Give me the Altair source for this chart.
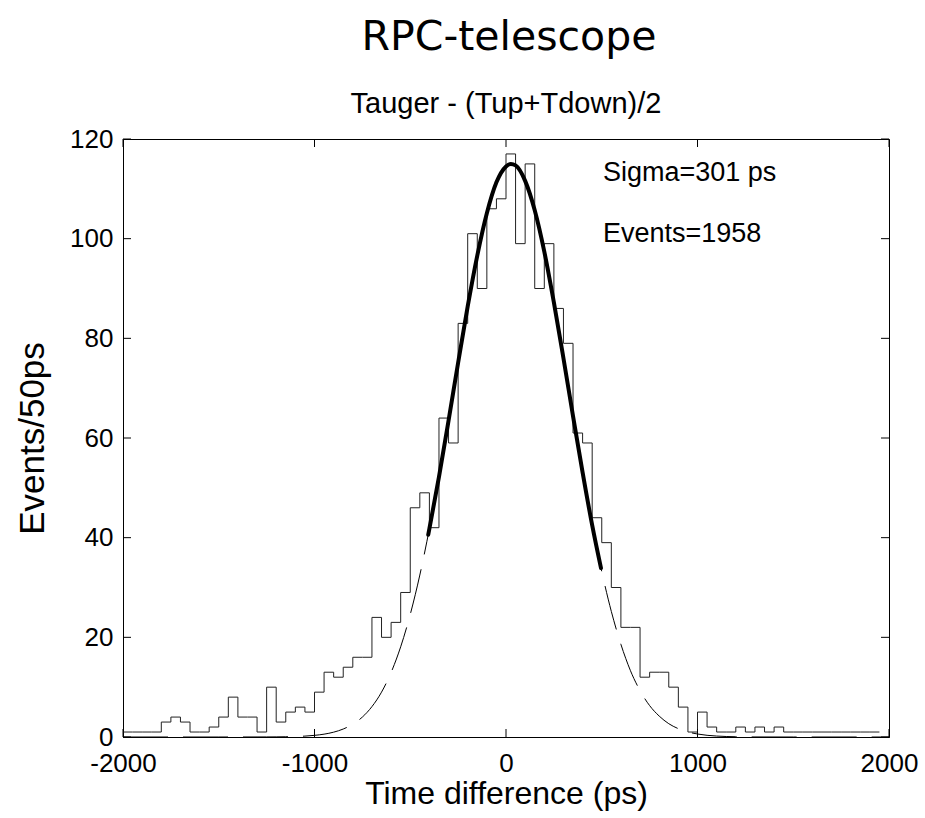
import altair as alt
import pandas as pd

# ---------------- data ----------------
# histogram: left bin edges (50 ps bins) and counts
bin_left = list(range(-2000, 1950, 50))
counts = [1, 1, 1, 1, 3, 4, 3, 1, 1, 2,
          4, 8, 4, 4, 1, 10, 3, 5, 6, 5,
          9, 13, 12, 14, 16, 16, 24, 20, 23, 29,
          46, 49, 42, 64, 59, 83, 101, 90, 106, 108,
          117, 99, 115, 90, 99, 86, 79, 61, 59, 44,
          39, 30, 22, 22, 12, 13, 13, 10, 6, 1,
          5, 2, 1, 1, 2, 1, 2, 1, 2,
          1, 1, 1, 1, 1, 1, 1, 1, 1, 1]
hist_end = 1950

# gaussian fit curve (dashed, full range)
fit_x = [-2000, -1500, -1300, -1250, -1200, -1150, -1100, -1050, -1000, -950,
         -900, -850, -800, -750, -700, -650, -600, -550, -500, -450,
         -400, -350, -300, -250, -200, -150, -100, -50, 0, 25,
         50, 100, 150, 200, 250, 300, 350, 400, 450, 500,
         550, 600, 650, 700, 750, 800, 850, 900, 950, 1000,
         1050, 1100, 1150, 1200, 1250, 1300, 1500, 2000]
fit_y = [0, 0, 0.01, 0.013, 0.027, 0.05, 0.1, 0.18, 0.33, 0.57,
         0.97, 1.6, 2.57, 4.0, 6.1, 9.0, 12.95, 18.1, 24.6, 32.5,
         41.8, 52.2, 63.5, 75.1, 86.4, 96.6, 105.1, 111.3, 114.5, 115.0,
         114.7, 111.6, 105.7, 97.4, 87.2, 76.0, 64.4, 53.1, 42.5, 33.2,
         25.2, 18.6, 13.3, 9.3, 6.3, 4.2, 2.67, 1.67, 1.01, 0.6,
         0.34, 0.19, 0.1, 0.05, 0.03, 0.01, 0, 0]

# thick fitted portion
thick_x = [-406, -400, -350, -300, -250, -200, -150, -100, -50, 0, 25,
           50, 100, 150, 200, 250, 300, 350, 400, 450, 496]
thick_y = [40.6, 41.8, 52.2, 63.5, 75.1, 86.4, 96.6, 105.1, 111.3, 114.5, 115.0,
           114.7, 111.6, 105.7, 97.4, 87.2, 76.0, 64.4, 53.1, 42.5, 33.9]

x_ticks = [-2000, -1000, 0, 1000, 2000]
y_ticks = [0, 20, 40, 60, 80, 100, 120]

annot_text = ["Sigma=301 ps", "Events=1958"]
annot_x = [506, 506]
annot_y = [111.6, 99.3]

title_text = "RPC-telescope"
subtitle_text = "Tauger - (Tup+Tdown)/2"

# ---------------- chart ----------------
W, H = 766, 598
FONT = "Liberation Sans"

hist_df = pd.DataFrame({"t": bin_left + [hist_end], "n": counts + [counts[-1]]})
fit_df = pd.DataFrame({"t": fit_x, "v": fit_y})
thick_df = pd.DataFrame({"t": thick_x, "v": thick_y})
xt_df = pd.DataFrame({"t": x_ticks})
yt_df = pd.DataFrame({"t": y_ticks})
ann_df = pd.DataFrame({"t": annot_x, "v": annot_y, "s": annot_text})

x_scale = alt.Scale(domain=[-2000, 2000], nice=False, zero=False)
y_scale = alt.Scale(domain=[0, 120], nice=False, zero=False)

x_axis = alt.Axis(values=x_ticks, ticks=False, tickSize=0, grid=False,
                  domainColor="black", domainWidth=1,
                  labelFont=FONT, labelFontSize=26, labelColor="black",
                  labelPadding=13, labelFlush=False, labelOverlap=False,
                  labelExpr="datum.value + ''",
                  title="Time difference (ps)", titleFont=FONT, titleFontSize=32,
                  titleFontWeight="normal", titleColor="black",
                  titleY=66, titleBaseline="alphabetic")
y_axis = alt.Axis(values=y_ticks, ticks=False, tickSize=0, grid=False,
                  domainColor="black", domainWidth=1,
                  labelFont=FONT, labelFontSize=26, labelColor="black",
                  labelPadding=10, labelFlush=False, labelOverlap=False,
                  labelExpr="datum.value + ''",
                  title="Events/50ps", titleFont=FONT, titleFontSize=35,
                  titleFontWeight="normal", titleColor="black",
                  titleX=-80, titleY=H / 2, titleBaseline="alphabetic",
                  titleAlign="center")

hist = alt.Chart(hist_df).mark_line(interpolate="step-after", color="#222222",
                                    strokeWidth=1).encode(
    x=alt.X("t:Q", scale=x_scale, axis=x_axis),
    y=alt.Y("n:Q", scale=y_scale, axis=y_axis),
)

dashed = alt.Chart(fit_df).mark_line(interpolate="monotone", color="black",
                                     strokeWidth=1, strokeDash=[45, 15]).encode(
    x=alt.X("t:Q", scale=x_scale), y=alt.Y("v:Q", scale=y_scale))

thick = alt.Chart(thick_df).mark_line(interpolate="monotone", color="black",
                                      strokeWidth=4, strokeCap="round").encode(
    x=alt.X("t:Q", scale=x_scale), y=alt.Y("v:Q", scale=y_scale))

tick_len = 8
bottom_ticks = alt.Chart(xt_df).mark_rule(color="black", strokeWidth=1).encode(
    x=alt.X("t:Q", scale=x_scale), y=alt.value(H), y2=alt.value(H - tick_len))
top_ticks = alt.Chart(xt_df).mark_rule(color="black", strokeWidth=1).encode(
    x=alt.X("t:Q", scale=x_scale), y=alt.value(0), y2=alt.value(tick_len))
left_ticks = alt.Chart(yt_df).mark_rule(color="black", strokeWidth=1).encode(
    y=alt.Y("t:Q", scale=y_scale), x=alt.value(0), x2=alt.value(tick_len))
right_ticks = alt.Chart(yt_df).mark_rule(color="black", strokeWidth=1).encode(
    y=alt.Y("t:Q", scale=y_scale), x=alt.value(W), x2=alt.value(W - tick_len))

annots = alt.Chart(ann_df).mark_text(align="left", baseline="alphabetic",
                                     font=FONT, fontSize=27, color="black").encode(
    x=alt.X("t:Q", scale=x_scale), y=alt.Y("v:Q", scale=y_scale), text="s:N")

title_mark = alt.Chart(pd.DataFrame({"s": [title_text]})).mark_text(
    align="center", baseline="alphabetic", font="DejaVu Sans", fontSize=41,
    color="black").encode(x=alt.value(W / 2 + 3), y=alt.value(-89), text="s:N")
subtitle_mark = alt.Chart(pd.DataFrame({"s": [subtitle_text]})).mark_text(
    align="center", baseline="alphabetic", font=FONT, fontSize=29,
    color="black").encode(x=alt.value(W / 2), y=alt.value(-26), text="s:N")

chart = alt.layer(
    hist, dashed, thick, bottom_ticks, top_ticks, left_ticks, right_ticks,
    annots, title_mark, subtitle_mark
).properties(
    width=W, height=H,
    autosize=alt.AutoSizeParams(type="none"),
    padding={"left": 123, "top": 139, "right": 36, "bottom": 81},
    background="white",
).configure_view(stroke="black", strokeWidth=1)

chart.save("out.html", embed_options={"renderer": "svg", "actions": False})
